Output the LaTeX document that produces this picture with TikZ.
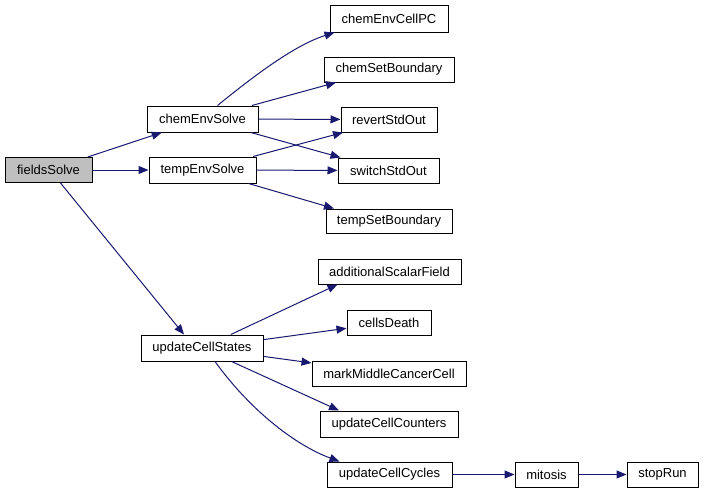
\documentclass[tikz,border=0pt]{standalone}
\usepackage{fontspec}
\setmainfont{Liberation Sans}
\usetikzlibrary{arrows.meta}
\definecolor{edgeblue}{HTML}{191970}
\begin{document}
\begin{tikzpicture}[x=1pt,y=-1pt,
  fn/.style={draw=black, line width=1pt, fill=white, inner sep=0pt, minimum height=25pt,
    font=\fontsize{13}{15}\selectfont, anchor=center},
  call/.style={draw=edgeblue, line width=1pt, -{Triangle[length=10pt,width=8pt]}, fill=none}]
\useasboundingbox (0,0) rectangle (704,493);
\node[fn, fill={rgb,255:red,191;green,191;blue,191}, minimum width=87pt] (fs) at (48.5,170) {fieldsSolve};
\node[fn, minimum width=111pt, minimum height=26pt] (ces) at (202.5,119) {chemEnvSolve};
\node[fn, minimum width=107pt, minimum height=26pt] (tes) at (202.5,170) {tempEnvSolve};
\node[fn, minimum width=122pt, minimum height=26pt] (ucs) at (202,348) {updateCellStates};
\node[fn, minimum width=118pt, minimum height=27pt] (cpc) at (389,18.5) {chemEnvCellPC};
\node[fn, minimum width=130pt] (csb) at (389,69.5) {chemSetBoundary};
\node[fn, minimum width=96pt] (rso) at (389,119.5) {revertStdOut};
\node[fn, minimum width=101pt] (sso) at (388.5,170.5) {switchStdOut};
\node[fn, minimum width=126pt, minimum height=24pt] (tsb) at (389,221) {tempSetBoundary};
\node[fn, minimum width=143pt] (asf) at (389.5,271.5) {additionalScalarField};
\node[fn, minimum width=84pt] (cd) at (389,322.5) {cellsDeath};
\node[fn, minimum width=154pt] (mmc) at (389,373.5) {markMiddleCancerCell};
\node[fn, minimum width=138pt, minimum height=26pt] (ucc) at (389,424) {updateCellCounters};
\node[fn, minimum width=125pt] (ucy) at (389.5,474.5) {updateCellCycles};
\node[fn, minimum width=63pt] (mit) at (546.5,474.5) {mitosis};
\node[fn, minimum width=71pt] (sr) at (662.5,474.5) {stopRun};
% edges
\draw[call] (fs) -- (ces);
\draw[call] (fs) -- (tes);
\draw[call] ([xshift=12pt]fs.south) -- ([xshift=-18pt]ucs.north);
\draw[call] ([xshift=15pt]ces.north) .. controls (255,75) and (295,45) .. ([xshift=5pt]cpc.south west);
\draw[call] (ces) -- ([xshift=-53pt]csb.south);
\draw[call] (ces) -- (rso);
\draw[call] (ces) -- ([xshift=-48pt]sso.north);
\draw[call] (tes) -- ([xshift=-46pt]rso.south);
\draw[call] (tes) -- (sso);
\draw[call] (tes) -- ([xshift=-55pt]tsb.north);
\draw[call] (ucs) -- ([xshift=-52pt]asf.south);
\draw[call] (ucs) -- (cd);
\draw[call] (ucs) -- (mmc);
\draw[call] (ucs) -- ([xshift=-50pt]ucc.north);
\draw[call] ([xshift=13pt]ucs.south) .. controls (250,410) and (295,445) .. ([xshift=-50pt]ucy.north);
\draw[call] (ucy) -- (mit);
\draw[call] (mit) -- (sr);
\end{tikzpicture}
\end{document}
